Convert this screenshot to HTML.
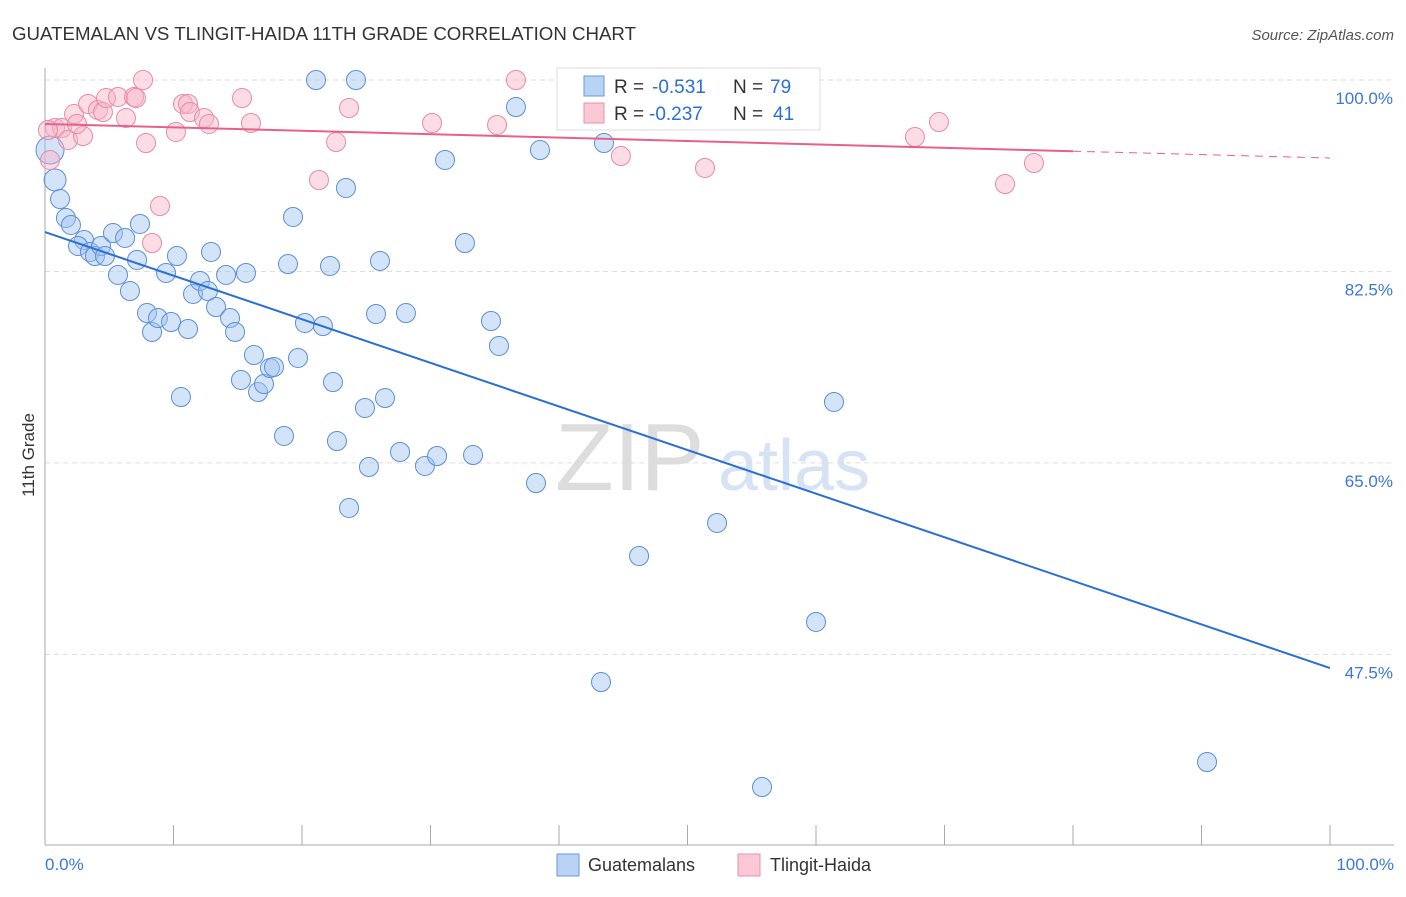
<!DOCTYPE html>
<html><head><meta charset="utf-8"><style>
body{margin:0;background:#fff;font-family:"Liberation Sans",sans-serif}
svg text{font-family:"Liberation Sans",sans-serif}
</style></head><body>
<svg id="chart" width="1406" height="892">
<text x="12" y="40" font-size="18" fill="#333" textLength="624" lengthAdjust="spacingAndGlyphs">GUATEMALAN VS TLINGIT-HAIDA 11TH GRADE CORRELATION CHART</text>
<text x="1394" y="40" font-size="15" fill="#555" text-anchor="end" font-style="italic">Source: ZipAtlas.com</text>
<text x="555" y="490" font-size="96" fill="#ddd" font-family="Liberation Serif">ZIP</text>
<text x="718" y="490" font-size="72" fill="#d5e3f5">atlas</text>
<g id="grid"></g><g id="axes"></g><g id="pts"></g><g id="lines"></g>
<text transform="translate(34,455) rotate(-90)" font-size="17" fill="#333" text-anchor="middle">11th Grade</text>
<g>
<rect x="557" y="68" width="263" height="62" fill="#fff" stroke="#ddd"/>
<rect x="584" y="76" width="20" height="20" fill="#b9d3f5" stroke="#6a9ad8"/>
<rect x="584" y="103" width="20" height="20" fill="#fbc8d6" stroke="#e890aa"/>
<text x="614" y="93" font-size="19" fill="#333">R =</text>
<text x="652" y="93" font-size="19" fill="#2a6fd6">-0.531</text>
<text x="733" y="93" font-size="19" fill="#333">N =</text>
<text x="770" y="93" font-size="19" fill="#2a6fd6">79</text>
<text x="614" y="120" font-size="19" fill="#333">R =</text>
<text x="649" y="120" font-size="19" fill="#2a6fd6">-0.237</text>
<text x="733" y="120" font-size="19" fill="#333">N =</text>
<text x="773" y="120" font-size="19" fill="#2a6fd6">41</text>
</g>
<g>
<rect x="557" y="854" width="22" height="22" fill="#b9d3f5" stroke="#6a9ad8"/>
<text x="588" y="871" font-size="18" fill="#333">Guatemalans</text>
<rect x="738" y="854" width="22" height="22" fill="#fbc8d6" stroke="#e890aa"/>
<text x="770" y="871" font-size="18" fill="#333">Tlingit-Haida</text>
</g>
</svg>
<script>
const blueX=[0.39,0.78,1.17,1.63,2.02,3.04,2.57,3.50,3.89,4.36,4.67,5.29,6.23,7.39,5.68,6.61,7.16,7.94,8.33,8.79,9.42,9.81,10.27,10.58,11.13,11.52,12.06,12.68,12.92,13.31,14.09,14.40,14.79,15.64,15.25,16.26,16.58,17.04,17.51,17.82,18.60,18.91,19.30,19.69,20.23,21.09,21.63,22.18,22.41,22.72,23.42,23.66,24.20,24.90,25.21,25.76,26.07,26.46,27.63,28.09,29.57,30.51,31.13,32.68,33.31,34.71,35.33,36.65,38.21,38.52,43.27,43.50,46.23,52.30,58.60,60.00,61.40,55.80,90.43];
const blueY=[93.6,90.86,89.12,87.39,86.75,85.37,84.83,84.28,83.91,84.83,83.91,86.01,85.56,86.84,82.18,80.71,83.55,78.70,76.97,78.24,82.36,77.88,83.91,71.02,77.24,80.44,81.63,80.71,84.28,79.25,82.18,78.24,76.97,82.36,72.58,74.86,71.48,72.21,73.67,73.77,67.46,83.18,87.48,74.59,77.79,100,77.51,83.00,72.39,67.00,90.13,60.88,100,70.02,64.63,78.61,83.46,70.93,66.00,78.70,64.72,65.63,92.69,85.10,65.72,77.97,75.69,97.53,63.16,93.60,44.97,94.24,56.49,59.51,100,50.46,70.57,35.37,37.66];
const pinkX=[0.39,0.78,1.32,1.79,2.26,2.96,2.49,3.35,4.12,4.51,4.75,5.68,6.30,6.93,7.08,7.63,7.86,8.95,8.33,10.19,10.74,11.13,11.28,12.37,12.76,15.33,16.03,21.32,22.65,23.66,30.12,35.18,36.65,44.82,51.36,67.70,69.57,74.71,76.96,0.23];
const pinkY=[92.69,95.61,95.61,94.52,96.89,94.88,95.98,97.81,97.26,97.07,98.35,98.45,96.53,98.45,98.35,100,94.24,88.48,85.10,95.25,97.81,97.81,97.07,96.53,95.98,98.35,96.07,90.86,94.33,97.44,96.07,95.89,100,93.05,91.96,94.79,96.16,90.49,92.41,95.43];
const yTicks=[100,82.5,65,47.5];
const yTickLabels=["100.0%","82.5%","65.0%","47.5%"];
const blueTrend=[86.1,46.25];
const pinkTrend=[95.98,92.87];
const pinkSolidEnd=80;
const NS='http://www.w3.org/2000/svg';
const X=v=>45+v*12.85, Y=v=>80+(100-v)*10.94;
function mk(t,a,p){const e=document.createElementNS(NS,t);for(const k in a)e.setAttribute(k,a[k]);p.appendChild(e);return e;}
const grid=document.getElementById('grid'),axes=document.getElementById('axes'),pts=document.getElementById('pts'),lines=document.getElementById('lines');
yTicks.forEach((t,i)=>{
 const l=mk('line',{x1:45,x2:1394,y1:Y(t),y2:Y(t),stroke:'#ddd','stroke-dasharray':'5,4'},grid);
 
 
 const tx=mk('text',{x:1393,y:Y(t)+24,'font-size':17,fill:'#3a78d8','text-anchor':'end'},axes);
 tx.textContent=yTickLabels[i];
 
 
});
const ax=mk('line',{x1:45,x2:45,y1:68,y2:845,stroke:'#aaa'},axes);


const bx=mk('line',{x1:45,x2:1394,y1:845,y2:845,stroke:'#aaa'},axes);


for(let i=0;i<=10;i++){const tk=mk('line',{x1:X(i*10),x2:X(i*10),y1:825,y2:845,stroke:'#aaa'},axes);
 
 }
[[0,'0.0%','start',45],[100,'100.0%','end',1394]].forEach(d=>{const t=mk('text',{x:d[3],y:870,'font-size':17,fill:'#3a78d8','text-anchor':d[2]},axes);t.textContent=d[1];
 
 });
blueX.forEach((x,i)=>{const c=mk('circle',{cx:X(x),cy:Y(blueY[i]),r:i==0?14:(i==1?11:9.5),fill:'rgba(160,196,240,0.45)',stroke:'#5b8fd6','stroke-width':1},pts);
 
 });
pinkX.forEach((x,i)=>{const c=mk('circle',{cx:X(x),cy:Y(pinkY[i]),r:9.5,fill:'rgba(248,180,200,0.45)',stroke:'#e88aa8','stroke-width':1},pts);
 
 });
const bl=mk('line',{x1:X(0),y1:Y(blueTrend[0]),x2:X(100),y2:Y(blueTrend[1]),stroke:'#2a6fd6','stroke-width':2},lines);


const pm=pinkTrend[0]+(pinkTrend[1]-pinkTrend[0])*pinkSolidEnd/100;
const pl=mk('line',{x1:X(0),y1:Y(pinkTrend[0]),x2:X(pinkSolidEnd),y2:Y(pm),stroke:'#e8608a','stroke-width':2},lines);


const pd=mk('line',{x1:X(pinkSolidEnd),y1:Y(pm),x2:X(100),y2:Y(pinkTrend[1]),stroke:'#e8608a','stroke-width':1,'stroke-dasharray':'8,6'},lines);


</script>
</body></html>
